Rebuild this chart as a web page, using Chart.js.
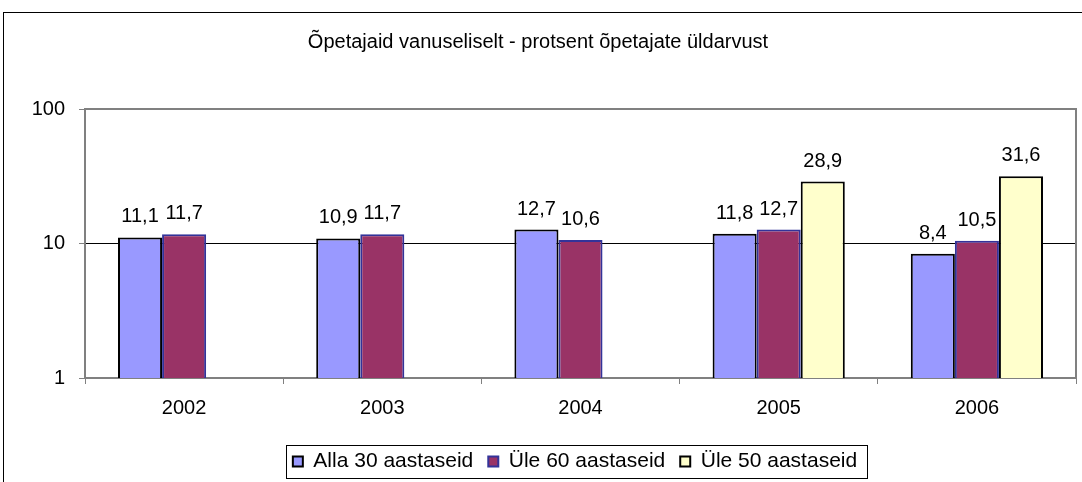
<!DOCTYPE html>
<html>
<head>
<meta charset="utf-8">
<script src="https://cdn.jsdelivr.net/npm/chart.js@4.4.0/dist/chart.umd.min.js"></script>
<style>
  html, body { margin: 0; padding: 0; background: #fff; overflow: hidden; }
  #frame { position: absolute; left: 3px; top: 12px; width: 1200px; height: 600px; border: 1px solid #000; }
  #wrap { position: absolute; left: 0; top: 0; width: 1082px; height: 482px; }
</style>
</head>
<body>
<div id="frame"></div>
<div id="wrap"><canvas id="chart" width="1082" height="482"></canvas></div>
<script>
// andmed
const years = ['2002', '2003', '2004', '2005', '2006'];
const alla30 = [11.1, 10.9, 12.7, 11.8, 8.4];
const yle60 = [11.7, 11.7, 10.6, 12.7, 10.5];
const yle50 = [null, null, null, 28.9, 31.6];
const yTicks = [1, 10, 100];

const FONT = 'Arial, "Liberation Sans", sans-serif';

// väärtused tulpade kohale
const valueLabels = {
    id: 'valueLabels',
    afterDatasetsDraw(chart) {
        const ctx = chart.ctx;
        ctx.save();
        ctx.font = '20px ' + FONT;
        ctx.fillStyle = '#000';
        ctx.textAlign = 'center';
        ctx.textBaseline = 'alphabetic';
        chart.data.datasets.forEach((ds, i) => {
            chart.getDatasetMeta(i).data.forEach((bar, j) => {
                const v = ds.data[j];
                if (v == null) return;
                ctx.fillText(v.toFixed(1).replace('.', ','), bar.x, bar.y - 15);
            });
        });
        ctx.restore();
    }
};

// hall raam joonise ümber + legendi kast
const frames = {
    id: 'frames',
    afterLayout(chart) {
        // legend pole päris keskel, vaid veidi paremal
        if (chart.legend) {
            chart.legend.left += 37;
            chart.legend.right += 37;
        }
    },
    beforeDatasetsDraw(chart) {
        const a = chart.chartArea;
        const ctx = chart.ctx;
        ctx.save();
        ctx.strokeStyle = '#808080';
        ctx.lineWidth = 2;
        ctx.strokeRect(a.left, a.top, a.right - a.left, a.bottom - a.top);
        ctx.restore();
    },
    afterDraw(chart) {
        const lg = chart.legend;
        if (!lg || !lg.legendHitBoxes.length) return;
        const boxes = lg.legendHitBoxes;
        const x1 = Math.min(...boxes.map(b => b.left)) - 7;
        const x2 = Math.max(...boxes.map(b => b.left + b.width)) + 10;
        const y1 = Math.min(...boxes.map(b => b.top));
        const y2 = Math.max(...boxes.map(b => b.top + b.height));
        const cy = (y1 + y2) / 2;
        const ctx = chart.ctx;
        ctx.save();
        ctx.strokeStyle = '#000';
        ctx.lineWidth = 1;
        ctx.strokeRect(Math.round(x1) + 0.5, Math.round(cy - 17) + 0.5, Math.round(x2 - x1), 33);
        ctx.restore();
    }
};

new Chart(document.getElementById('chart'), {
    type: 'bar',
    plugins: [valueLabels, frames],
    data: {
        labels: years,
        datasets: [
            { label: 'Alla 30 aastaseid', data: alla30, backgroundColor: '#9999FF', borderColor: '#000000', borderWidth: 2 },
            { label: 'Üle 60 aastaseid', data: yle60, backgroundColor: '#993366', borderColor: '#333399', borderWidth: 2 },
            { label: 'Üle 50 aastaseid', data: yle50, backgroundColor: '#FFFFCC', borderColor: '#000000', borderWidth: 2 }
        ]
    },
    options: {
        responsive: false,
        animation: false,
        layout: { padding: { left: 0, right: 6, top: 0, bottom: 0 } },
        datasets: { bar: { categoryPercentage: 0.667, barPercentage: 1 } },
        scales: {
            x: {
                grid: { offset: true, drawOnChartArea: false, tickLength: 6, tickColor: '#808080' },
                border: { display: false },
                ticks: { color: '#000', font: { family: FONT, size: 20 }, padding: 12 },
                afterFit(scale) { scale.height = 58; }
            },
            y: {
                type: 'logarithmic',
                min: 1,
                max: 100,
                afterBuildTicks(scale) { scale.ticks = yTicks.map(v => ({ value: v })); },
                grid: {
                    color: c => (c.tick && c.tick.value === 10) ? '#000' : 'rgba(0,0,0,0)',
                    tickLength: 6,
                    tickColor: '#808080'
                },
                border: { display: false },
                ticks: { color: '#000', font: { family: FONT, size: 20 }, padding: 14, callback: v => String(v) },
                afterFit(scale) { scale.width = 85; }
            }
        },
        plugins: {
            title: {
                display: true,
                text: 'Õpetajaid vanuseliselt - protsent õpetajate üldarvust',
                color: '#000',
                font: { family: FONT, size: 20, weight: 'normal' },
                padding: { top: 30, bottom: 55 }
            },
            legend: {
                position: 'bottom',
                labels: {
                    color: '#000',
                    font: { family: FONT, size: 21 },
                    boxWidth: 10,
                    boxHeight: 10,
                    padding: 15
                }
            },
            tooltip: { enabled: false }
        }
    }
});
</script>
</body>
</html>
